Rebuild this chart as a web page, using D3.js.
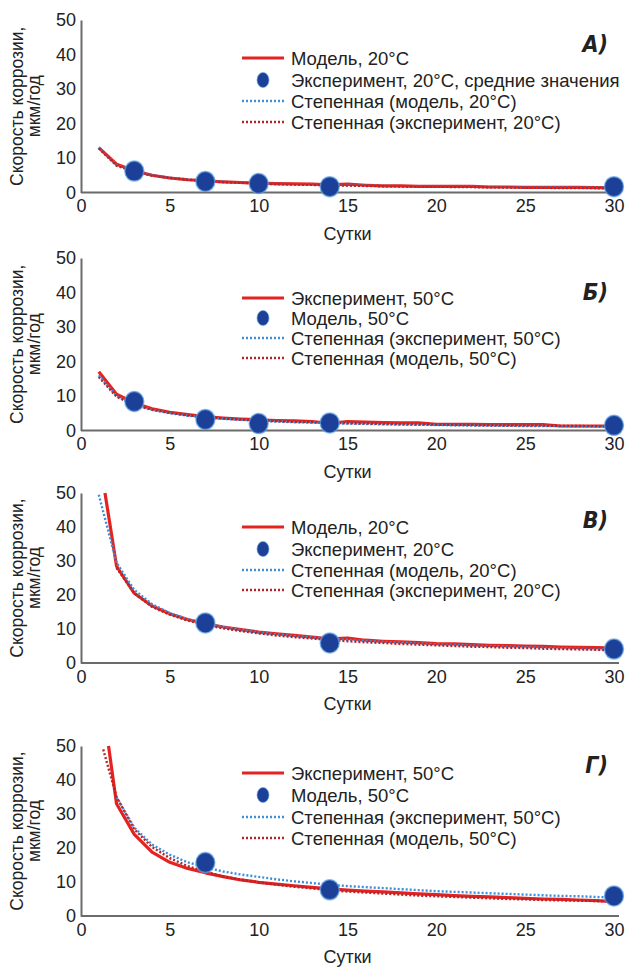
<!DOCTYPE html>
<html>
<head>
<meta charset="utf-8">
<script src="https://cdn.jsdelivr.net/npm/d3@7"></script>
<style>
  body { margin: 0; background: #fff; }
  text { font-family: "Liberation Sans", Arial, sans-serif; fill: #222; }
  .axis path { stroke: #6b6b6b; stroke-width: 2; }
  .axis text { font-size: 18px; fill: #222; font-family: "Liberation Sans", Arial, sans-serif; }
  .legend text { font-size: 18.5px; }
  .panel-label { font-family: "Liberation Sans Narrow", "DejaVu Sans Condensed", sans-serif; font-weight: bold; font-style: italic; font-size: 23px; }
</style>
</head>
<body>
<div id="chart"></div>
<script>
// ---- data ----
const days = [1,2,3,4,5,6,7,8,9,10,11,12,13,14,15,16,17,18,19,20,21,22,23,24,25,26,27,28,29,30];
const days2 = [2,3,4,5,6,7,8,9,10,11,12,13,14,15,16,17,18,19,20,21,22,23,24,25,26,27,28,29,30];

// A) 20°C
const aModel    = [13,8.2,6.3,5.0,4.2,3.7,3.4,3.1,2.9,2.7,2.6,2.5,2.4,2.2,2.4,2.1,1.9,1.9,1.8,1.8,1.8,1.8,1.6,1.6,1.5,1.5,1.5,1.5,1.4,1.4];
const aFitModel = [13,8.0,6.1,5.0,4.3,3.8,3.4,3.1,2.9,2.7,2.5,2.4,2.3,2.2,2.1,2.0,1.9,1.85,1.8,1.75,1.7,1.65,1.6,1.55,1.5,1.5,1.45,1.4,1.4,1.35];
const aFitExp   = [12.8,7.8,6.0,4.9,4.2,3.7,3.3,3.0,2.8,2.6,2.4,2.3,2.2,2.1,2.0,1.9,1.8,1.75,1.7,1.65,1.6,1.55,1.5,1.45,1.4,1.35,1.3,1.3,1.25,1.2];
const aDots = [[3,6.2],[7,3.2],[10,2.6],[14,1.7],[30,1.7]];

// Б) 50°C
const bExp      = [17,10.5,8.0,6.3,5.3,4.6,4.0,3.6,3.3,3.1,2.9,2.8,2.6,2.1,2.6,2.4,2.3,2.2,2.2,1.8,1.8,1.8,1.7,1.7,1.7,1.7,1.3,1.3,1.3,1.3];
const bFitExp   = [16,10,7.5,6.0,5.0,4.3,3.8,3.4,3.1,2.8,2.6,2.4,2.3,2.1,2.0,1.9,1.8,1.7,1.65,1.6,1.5,1.45,1.4,1.35,1.3,1.3,1.25,1.2,1.15,1.1];
const bFitModel = [15.5,9.8,7.4,6.0,5.1,4.4,3.9,3.5,3.2,2.9,2.7,2.5,2.4,2.2,2.1,2.0,1.9,1.8,1.75,1.7,1.6,1.55,1.5,1.45,1.4,1.4,1.35,1.3,1.25,1.2];
const bDots = [[3,8.4],[7,3.2],[10,2.0],[14,2.2],[30,1.5]];

// В) 20°C
const cModelDays = [1.35,2,3,4,5,6,7,8,9,10,11,12,13,14,15,16,17,18,19,20,21,22,23,24,25,26,27,28,29,30];
const cModel     = [50,28.5,20.5,16.8,14.5,12.8,11.6,10.6,9.8,9.1,8.6,8.1,7.6,7.1,7.3,6.7,6.4,6.2,6.0,5.7,5.6,5.4,5.2,5.1,5.0,4.9,4.7,4.6,4.5,4.4];
const cFitModel  = [49.5,29.5,21.5,17.3,14.7,12.9,11.6,10.6,9.7,9.0,8.4,7.9,7.5,7.1,6.8,6.5,6.2,6.0,5.7,5.5,5.3,5.1,5.0,4.8,4.6,4.5,4.3,4.2,4.0,3.9];
const cFitExp    = [28,20.5,16.5,14.2,12.5,11.2,10.2,9.4,8.7,8.1,7.6,7.2,6.8,6.4,6.1,5.9,5.6,5.4,5.2,5.0,4.8,4.7,4.5,4.4,4.2,4.1,4.0,3.9,3.7];
const cDots = [[7,11.8],[14,5.9],[30,4.1]];

// Г) 50°C
const dExpDays      = [1.55,2,3,4,5,6,7,8,9,10,11,12,13,14,15,16,17,18,19,20,21,22,23,24,25,26,27,28,29,30];
const dExp          = [50,33,24,18.8,15.8,14.0,12.7,11.6,10.6,9.9,9.4,8.9,8.4,8.0,7.6,7.3,7.1,6.8,6.5,6.3,6.0,5.8,5.6,5.4,5.2,5.0,4.9,4.7,4.5,4.2];
const dFitModelDays = [1.25,2,3,4,5,6,7,8,9,10,11,12,13,14,15,16,17,18,19,20,21,22,23,24,25,26,27,28,29,30];
const dFitModel     = [49,35,25.5,20.3,17.0,14.7,13.0,11.7,10.7,9.9,9.2,8.6,8.1,7.6,7.2,6.9,6.6,6.3,6.0,5.8,5.6,5.4,5.2,5.0,4.9,4.7,4.6,4.5,4.4,4.3];
const dFitExp       = [35,26,21,18,15.8,14.3,13.1,12.2,11.5,10.8,10.2,9.7,9.2,8.8,8.5,8.2,7.9,7.6,7.3,7.1,6.9,6.7,6.5,6.3,6.1,5.9,5.8,5.6,5.4];
const dDots = [[7,15.7],[14,7.7],[30,5.9]];

const xTicks = [0,5,10,15,20,25,30];
const yTicks = [0,10,20,30,40,50];

const RED = "#e42320", RED_DOT = "#b5242b", BLUE_DOT = "#3d8fd6", DOT = "#1c3f98", HALO = "#5fa4e6";

const panels = [
  { label: "А)", top: 20, bottom: 192.5, labelY: 44, legendY: [58, 80, 101, 122],
    solid: [days, aModel], blue: [days, aFitModel], red: [days, aFitExp], dots: aDots,
    names: ["Модель, 20°C", "Эксперимент, 20°C, средние значения", "Степенная (модель, 20°C)", "Степенная (эксперимент, 20°C)"] },
  { label: "Б)", top: 258, bottom: 430.5, labelY: 292, legendY: [298, 318, 338, 358],
    solid: [days, bExp], blue: [days, bFitExp], red: [days, bFitModel], dots: bDots,
    names: ["Эксперимент, 50°C", "Модель, 50°C", "Степенная (эксперимент, 50°C)", "Степенная (модель, 50°C)"] },
  { label: "В)", top: 493, bottom: 663, labelY: 520, legendY: [527, 549, 570, 590],
    solid: [cModelDays, cModel], blue: [days, cFitModel], red: [days2, cFitExp], dots: cDots,
    names: ["Модель, 20°C", "Эксперимент, 20°C", "Степенная (модель, 20°C)", "Степенная (эксперимент, 20°C)"] },
  { label: "Г)", top: 746, bottom: 916, labelY: 765, legendY: [773, 795, 817, 838],
    solid: [dExpDays, dExp], blue: [days2, dFitExp], red: [dFitModelDays, dFitModel], dots: dDots,
    names: ["Эксперимент, 50°C", "Модель, 50°C", "Степенная (эксперимент, 50°C)", "Степенная (модель, 50°C)"] }
];

const svg = d3.select("#chart").append("svg")
    .attr("width", 627)
    .attr("height", 967);

const x = d3.scaleLinear().domain([0, 30]).range([81, 614]);

panels.forEach(p => {
    const y = d3.scaleLinear().domain([0, 50]).range([p.bottom, p.top]);
    const g = svg.append("g");

    // axes: only the lines and labels, no tick marks
    g.append("g").attr("class", "axis")
        .attr("transform", `translate(0,${p.bottom})`)
        .call(d3.axisBottom(x).tickValues(xTicks).tickSize(0).tickPadding(7))
        .call(a => a.select(".domain").attr("d", `M${x(0)},0H${x(30) + 5}`));
    g.append("g").attr("class", "axis")
        .attr("transform", `translate(${x(0)},0)`)
        .call(d3.axisLeft(y).tickValues(yTicks).tickSize(0).tickPadding(5));

    g.append("text")
        .attr("x", (x(0) + x(30)) / 2)
        .attr("y", p.bottom + 47)
        .attr("text-anchor", "middle")
        .style("font-size", "18px")
        .text("Сутки");

    const mid = (p.top + p.bottom) / 2;
    [["Скорость коррозии,", 23], ["мкм/год", 40]].forEach(([t, bx]) => {
        g.append("text")
            .attr("transform", `translate(${bx},${mid}) rotate(-90)`)
            .attr("text-anchor", "middle")
            .style("font-size", "17.5px")
            .text(t);
    });

    const line = d3.line().x(d => x(d[0])).y(d => y(d[1]));
    const pts = s => s[0].map((d, i) => [d, s[1][i]]);

    g.append("path").attr("d", line(pts(p.solid)))
        .attr("fill", "none").attr("stroke", RED).attr("stroke-width", 3.2).attr("stroke-linejoin", "round");
    g.append("path").attr("d", line(pts(p.blue)))
        .attr("fill", "none").attr("stroke", BLUE_DOT).attr("stroke-width", 2.4).attr("stroke-dasharray", "2,2");
    g.append("path").attr("d", line(pts(p.red)))
        .attr("fill", "none").attr("stroke", RED_DOT).attr("stroke-width", 2.4).attr("stroke-dasharray", "2,2");

    g.selectAll(".dot").data(p.dots).enter().append("ellipse")
        .attr("class", "dot")
        .attr("cx", d => x(d[0])).attr("cy", d => y(d[1]))
        .attr("rx", 9.5).attr("ry", 10)
        .attr("fill", DOT).attr("stroke", HALO).attr("stroke-opacity", 0.7).attr("stroke-width", 1.5);

    g.append("text").attr("class", "panel-label")
        .attr("x", 608).attr("y", p.labelY + 8)
        .attr("text-anchor", "end")
        .text(p.label);

    // legend
    const lg = g.append("g").attr("class", "legend");
    const ly = p.legendY;
    lg.append("line").attr("x1", 242).attr("x2", 284).attr("y1", ly[0]).attr("y2", ly[0])
        .attr("stroke", RED).attr("stroke-width", 3.2);
    lg.append("ellipse").attr("cx", 263).attr("cy", ly[1]).attr("rx", 6).attr("ry", 7.5)
        .attr("fill", DOT).attr("stroke", HALO).attr("stroke-opacity", 0.6);
    lg.append("line").attr("x1", 242).attr("x2", 284).attr("y1", ly[2]).attr("y2", ly[2])
        .attr("stroke", BLUE_DOT).attr("stroke-width", 2.4).attr("stroke-dasharray", "2,2");
    lg.append("line").attr("x1", 242).attr("x2", 284).attr("y1", ly[3]).attr("y2", ly[3])
        .attr("stroke", RED_DOT).attr("stroke-width", 2.4).attr("stroke-dasharray", "2,2");
    p.names.forEach((n, i) => {
        lg.append("text").attr("x", 291).attr("y", ly[i]).attr("dy", "0.36em").text(n);
    });
});
</script>
</body>
</html>
